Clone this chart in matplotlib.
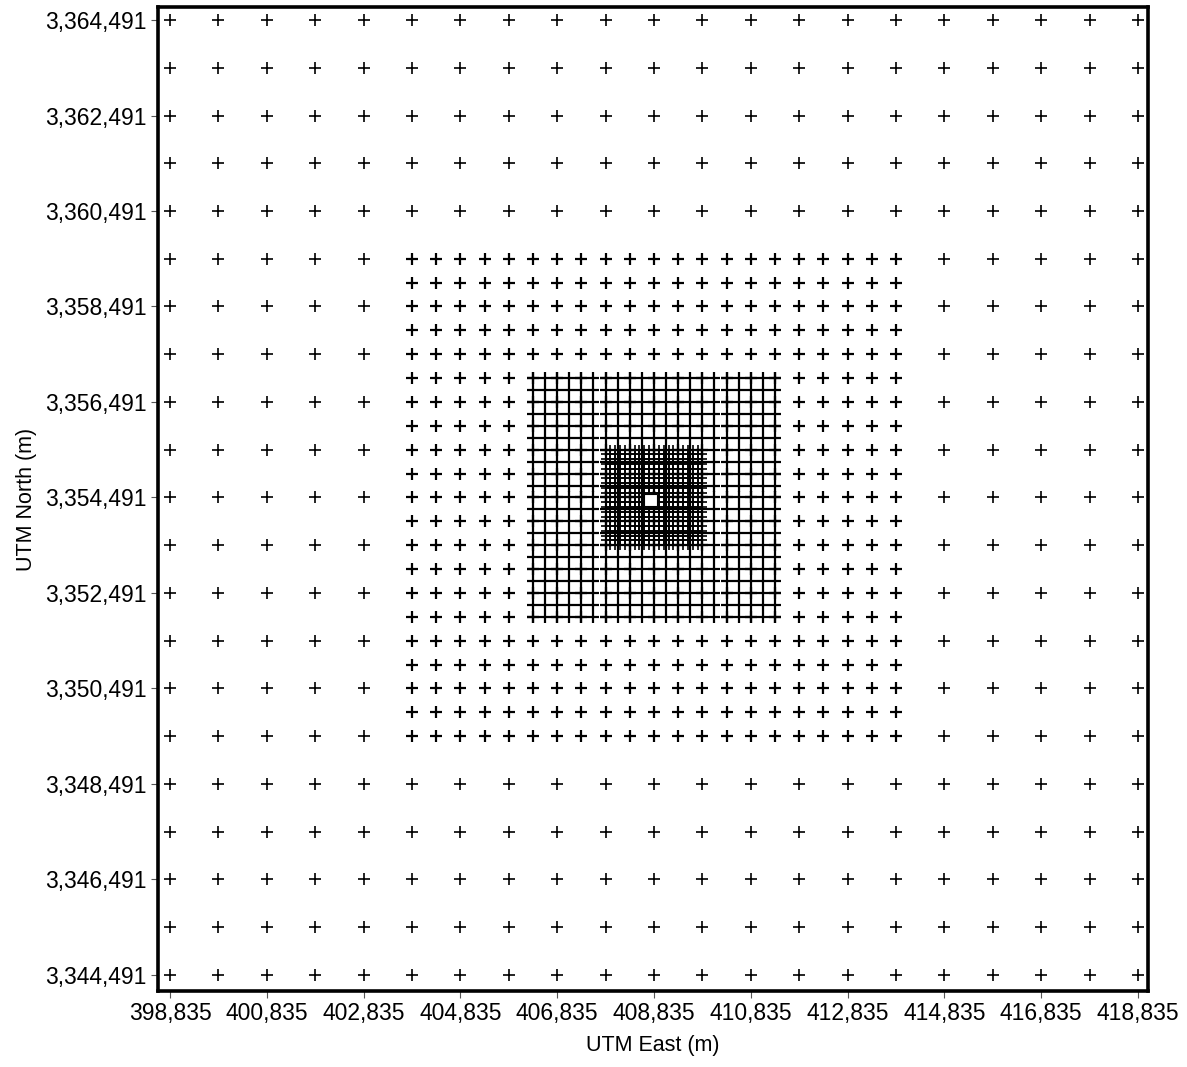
import matplotlib
matplotlib.use("Agg")
import matplotlib.pyplot as plt
from matplotlib.patches import Rectangle
import numpy as np

plt.rcParams['font.family'] = ['Liberation Sans', 'DejaVu Sans']

# Receptor grids (Cartesian, AERMOD-style: origin, spacing, number of points)
grid_names   = ["outer", "middle", "inner", "fine"]
grid_x0      = [398835, 403835, 406335, 407835]
grid_y0      = [3344491, 3349491, 3351991, 3353491]
grid_spacing = [1000, 500, 250, 100]
grid_count   = [21, 21, 21, 21]

# Source / building location (white box)
source_x = 408765
source_y = 3354440
source_size = 260

x_ticks = [398835, 400835, 402835, 404835, 406835, 408835, 410835, 412835, 414835, 416835, 418835]
y_ticks = [3344491, 3346491, 3348491, 3350491, 3352491, 3354491, 3356491, 3358491, 3360491, 3362491, 3364491]

x_label = "UTM East (m)"
y_label = "UTM North (m)"

marker_size = [8.6, 8.2, 9.0, 7.6]
marker_width = [1.2, 1.6, 1.6, 1.2]
marker_snap = [True, True, True, False]

fig = plt.figure(figsize=(11.87, 10.67), dpi=100)
ax = fig.add_axes([0.1331, 0.0712, 0.8340, 0.9222])

for i, name in enumerate(grid_names):
    xs = grid_x0[i] + grid_spacing[i] * np.arange(grid_count[i])
    ys = grid_y0[i] + grid_spacing[i] * np.arange(grid_count[i])
    X, Y = np.meshgrid(xs, ys)
    ax.plot(X.ravel(), Y.ravel(), linestyle='none', marker='+', color='black',
            markersize=marker_size[i], markeredgewidth=marker_width[i],
            snap=marker_snap[i], zorder=2 + i)

ax.add_patch(Rectangle((source_x - source_size / 2, source_y - source_size / 2),
                       source_size, source_size, facecolor='white',
                       edgecolor='black', linewidth=0.8, zorder=10))

ax.set_xlim(398587, 419041)
ax.set_ylim(3344153, 3364763)

ax.set_xticks(x_ticks)
ax.set_yticks(y_ticks)
ax.set_xticklabels([f"{v:,}" for v in x_ticks], fontsize=16.5)
ax.set_yticklabels([f"{v:,}" for v in y_ticks], fontsize=16.5)
ax.tick_params(axis='both', direction='out', length=5, width=0.8, color='#555555', pad=3)

ax.set_xlabel(x_label, fontsize=15.5, labelpad=7)
ax.set_ylabel(y_label, fontsize=15.5, labelpad=6)

for s in ax.spines.values():
    s.set_linewidth(2.6)
    s.set_color('black')

fig.savefig("out.png", dpi=100)
